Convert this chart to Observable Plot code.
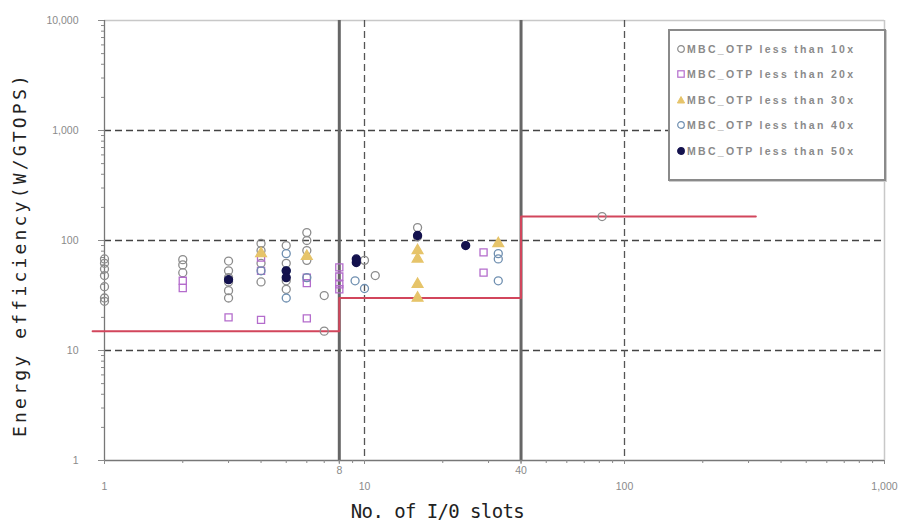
<!DOCTYPE html>
<html><head><meta charset="utf-8">
<script src="https://cdn.jsdelivr.net/npm/d3@7"></script>
<script src="https://cdn.jsdelivr.net/npm/@observablehq/plot@0.6"></script>
<style>
body{margin:0;background:#fff;}
#wrap{position:relative;width:914px;height:532px;}
#legend{position:absolute;left:668px;top:29px;width:218px;height:152px;border:2px solid #8a8a8a;box-shadow:1px 1px 0 #ccc;box-sizing:border-box;background:#fff;font-family:"Liberation Sans",Arial,sans-serif;font-size:10.5px;font-weight:bold;color:#8a8a8a;padding-top:5px;}
#legend .row{height:25.5px;display:flex;align-items:center;padding-left:6px;white-space:nowrap;letter-spacing:2.3px;}
#legend svg{margin-right:1px;}
</style></head>
<body><div id="wrap"><div id="chart"></div><div id="legend"></div></div>
<script>
// ---- data ----
const seriesNames = ["MBC_OTP less than 10x","MBC_OTP less than 20x","MBC_OTP less than 30x","MBC_OTP less than 40x","MBC_OTP less than 50x"];
const s10x = [1,1,1,1,1,1,1, 2,2,2, 3,3,3,3,3,3, 4,4,4,4, 5,5,5,5, 6,6,6,6, 7,7, 10,11, 16,16, 82];
const s10y = [68,62,55,48,38,30,28, 67,60,51, 65,53,46,42,35,30, 94,81,62,42, 90,62,43,36, 118,100,81,66, 31.6,15, 66,48, 131,108, 165];
const s20x = [2,2, 3, 4,4,4, 6,6,6, 8,8,8,8, 28.7,28.7];
const s20y = [43,37, 20, 70,53,19, 46,41,19.6, 57,47,40,36, 78,51];
const s30x = [16,16,16,16, 32.7, 6, 4];
const s30y = [81,68,40,30, 94, 72, 76];
const s40x = [4, 5,5,5, 6, 9.2, 10, 32.7,32.7,32.7];
const s40y = [53, 76,53,30, 46, 43, 36.6, 76,68,43];
const s50x = [3, 5,5, 9.3,9.3, 16, 24.5];
const s50y = [44, 53,46, 63,68, 111, 90];
const stepX = [0.9, 8, 40, 320];
const stepY = [15, 30, 165, 165];
const yTicks = [1, 10, 100, 1000, 10000];
const xTicksHigh = [8, 40];
const xTicksLow = [1, 10, 100, 1000];
const yGrid = [10, 100, 1000];
const xGrid = [10, 100];
const xLimits = [8, 40];
const xTitle = "No. of I/0 slots";
const yTitle = "Energy efficiency(W/GTOPS)";

const colors = ["#8c8c8c", "#b46ccc", "#e6c46a", "#6f8fb0", "#14124e"];
const symbols = ["circle", "square", "triangle", "circle", "circle"];
const filled = [false, false, true, false, true];

const series = [[s10x,s10y],[s20x,s20y],[s30x,s30y],[s40x,s40y],[s50x,s50y]];
const rows = series.flatMap(([xs, ys], i) => xs.map((x, j) => ({x, y: ys[j], s: i})));
const stepRows = stepX.map((x, i) => ({x, y: stepY[i]}));

const minorY = d3.range(0, 4).flatMap(e => d3.range(2, 10).map(m => m * 10 ** e));
const minorX = d3.range(0, 3).flatMap(e => d3.range(2, 10).map(m => m * 10 ** e));
const fmt = d3.format(",");
const blank = () => "";

const dotMarks = series.map((_, i) => Plot.dot(rows.filter(d => d.s === i), {
  x: "x", y: "y", symbol: () => symbols[i], r: 4,
  stroke: colors[i], strokeWidth: 1.3,
  fill: filled[i] ? colors[i] : "none"
}));

const chart = Plot.plot({
  width: 914, height: 532,
  marginLeft: 104, marginRight: 30, marginTop: 20, marginBottom: 72,
  style: {fontFamily: "Liberation Sans, Arial, sans-serif", background: "#fff"},
  x: {type: "log", domain: [1, 1000]},
  y: {type: "log", domain: [1, 10000]},
  marks: [
    Plot.ruleY([10000], {stroke: "#c8c8c8", strokeWidth: 1.5}),
    Plot.ruleX([1000], {stroke: "#c8c8c8", strokeWidth: 1.5}),
    Plot.ruleY(yGrid, {stroke: "#444", strokeWidth: 1.3, strokeDasharray: "7,4"}),
    Plot.ruleX(xGrid, {stroke: "#555", strokeWidth: 1.3, strokeDasharray: "7,4"}),
    Plot.ruleX(xLimits, {stroke: "#666", strokeWidth: 3}),
    Plot.ruleX([1], {stroke: "#777", strokeWidth: 1.3}),
    Plot.ruleY([1], {stroke: "#777", strokeWidth: 1.3}),
    Plot.axisY(minorY, {tickSize: 3, tickFormat: blank, stroke: "#888", label: null}),
    Plot.axisX(minorX, {tickSize: 3, tickFormat: blank, stroke: "#888", label: null}),
    Plot.axisY(yTicks, {tickSize: 6, tickPadding: 20, tickFormat: fmt, fontSize: 10.5, color: "#8a8a8a", label: null}),
    Plot.axisX(xTicksLow, {tickSize: 4, tickPadding: 18, tickFormat: fmt, fontSize: 10.5, color: "#8a8a8a", label: null}),
    Plot.axisX(xTicksHigh, {tickSize: 4, tickFormat: blank, stroke: "#888", label: null}),
    Plot.text(xTicksHigh, {x: d => d, frameAnchor: "bottom", dy: 13, text: d => fmt(d), fontSize: 10.5, fill: "#8a8a8a"}),
    Plot.line(stepRows, {x: "x", y: "y", curve: "step-after", stroke: "#d2465c", strokeWidth: 2}),
    ...dotMarks,
    Plot.text([yTitle], {frameAnchor: "left", textAnchor: "middle", rotate: -90, dx: -84, dy: 14, fontSize: 18, fill: "#222",
      fontFamily: "DejaVu Sans Mono", text: d => d}),
    Plot.text([xTitle], {frameAnchor: "bottom", dx: -57, dy: 57, fontSize: 19, fill: "#222",
      fontFamily: "DejaVu Sans Mono", text: d => d})
  ]
});
document.getElementById("chart").append(chart);
d3.select(chart).selectAll("text").filter(function(){ return this.textContent === yTitle; })
  .style("letter-spacing", "3.2px");
d3.select(chart).selectAll("text").filter(function(){ return this.textContent === xTitle; })
  .style("letter-spacing", "-0.6px");

// ---- legend ----
const legend = document.getElementById("legend");
seriesNames.forEach((name, i) => {
  const row = document.createElement("div");
  row.className = "row";
  let shape;
  const c = colors[i], f = filled[i] ? c : "none";
  if (symbols[i] === "circle") shape = `<circle cx="5" cy="5" r="3.3" fill="${f}" stroke="${c}" stroke-width="1.2"/>`;
  else if (symbols[i] === "square") shape = `<rect x="1.8" y="1.8" width="6.4" height="6.4" fill="${f}" stroke="${c}" stroke-width="1.2"/>`;
  else shape = `<path d="M5,1.5L8.6,8H1.4Z" fill="${f}" stroke="${c}" stroke-width="1"/>`;
  row.innerHTML = `<svg width="10" height="10">${shape}</svg><span>${name}</span>`;
  legend.append(row);
});
</script></body></html>
